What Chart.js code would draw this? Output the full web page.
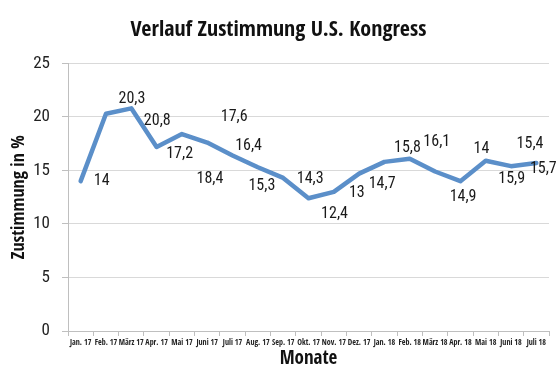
<!DOCTYPE html>
<html>
<head>
<meta charset="utf-8">
<script src="https://cdn.jsdelivr.net/npm/chart.js@4/dist/chart.umd.min.js"></script>
<style>
  html, body { margin: 0; padding: 0; background: #fff; }
  #wrap { width: 559px; height: 374px; }
</style>
</head>
<body>
<div id="wrap"><canvas id="chartZustimmung" width="559" height="374"></canvas></div>
<script>
const monate = ['Jan. 17', 'Feb. 17', 'März 17', 'Apr. 17', 'Mai 17', 'Juni 17', 'Juli 17', 'Aug. 17', 'Sep. 17',
    'Okt. 17', 'Nov. 17', 'Dez. 17', 'Jan. 18', 'Feb. 18', 'März 18', 'Apr. 18', 'Mai 18', 'Juni 18', 'Juli 18'];
const zustimmung = [14, 20.3, 20.8, 17.2, 18.4, 17.6, 16.4, 15.3, 14.3, 12.4, 13, 14.7, 15.8, 16.1, 14.9, 14, 15.9, 15.4, 15.7];
const yTicks = [0, 5, 10, 15, 20, 25];

// wo die Beschriftungen neben den Punkten sitzen (px, relativ zum Punkt)
const labelOffsets = [
    [21, 0], [26, -15], [26, 13], [23, 7], [28, 45], [27, -26], [16, -9], [4, 19], [27, 1],
    [26, 16], [23, 1], [23, 10], [23, -14], [27, -17], [28, 25], [21, -32], [26, 18], [19, -22], [7, 6]
];

const fontText = '"Roboto Condensed", "DejaVu Sans Condensed", sans-serif';
const fontTitel = '"Open Sans Condensed", "Roboto Condensed", sans-serif';

const datenLabels = {
    id: 'datenLabels',
    afterDatasetsDraw(chart) {
        const ctx = chart.ctx;
        const meta = chart.getDatasetMeta(0);
        ctx.save();
        ctx.font = '16px ' + fontText;
        ctx.fillStyle = '#1a1a1a';
        ctx.textAlign = 'center';
        ctx.textBaseline = 'middle';
        meta.data.forEach((p, i) => {
            const txt = String(zustimmung[i]).replace('.', ',');
            const off = labelOffsets[i];
            ctx.fillText(txt, p.x + off[0], p.y + off[1]);
        });
        ctx.restore();
    }
};

const ctx = document.getElementById('chartZustimmung').getContext('2d');

const chartZustimmung = new Chart(ctx, {
    type: 'line',
    data: {
        labels: monate,
        datasets: [{
            label: 'Zustimmung',
            data: zustimmung,
            borderColor: '#5b8fc9',
            borderWidth: 4.5,
            pointRadius: 0,
            tension: 0,
            borderCapStyle: 'round',
            borderJoinStyle: 'round'
        }]
    },
    options: {
        responsive: false,
        animation: false,
        layout: { padding: { left: 8, right: 10, top: 0, bottom: 0 } },
        plugins: {
            legend: { display: false },
            tooltip: { enabled: false },
            title: {
                display: true,
                text: 'Verlauf Zustimmung U.S. Kongress',
                color: '#111',
                font: { family: fontTitel, size: 22, weight: 'bold' },
                padding: { top: 17, bottom: 20 }
            }
        },
        scales: {
            x: {
                offset: true,
                afterFit: s => { s.height = 43; },
                grid: {
                    offset: true,
                    drawOnChartArea: false,
                    drawTicks: true,
                    tickLength: 5,
                    color: '#bfbfbf'
                },
                border: { color: '#bfbfbf', width: 1 },
                ticks: {
                    autoSkip: false,
                    maxRotation: 0,
                    minRotation: 0,
                    padding: 2,
                    color: '#222',
                    font: { family: fontTitel, size: 8, weight: 'bold' }
                },
                title: {
                    display: true,
                    text: 'Monate',
                    color: '#111',
                    font: { family: fontTitel, size: 19, weight: 'bold' },
                    padding: { top: 0, bottom: 4 }
                }
            },
            y: {
                min: 0,
                max: 25,
                afterFit: s => { s.width = 60; },
                afterBuildTicks: s => { s.ticks = yTicks.map(v => ({ value: v })); },
                grid: {
                    color: '#d9d9d9',
                    tickLength: 6,
                    tickColor: '#bfbfbf'
                },
                border: { color: '#bfbfbf', width: 1 },
                ticks: {
                    padding: 12,
                    color: '#222',
                    font: { family: fontText, size: 17 }
                },
                title: {
                    display: true,
                    text: 'Zustimmung in %',
                    color: '#111',
                    font: { family: fontTitel, size: 18, weight: 'bold' },
                    padding: { top: 0, bottom: 0 }
                }
            }
        }
    },
    plugins: [datenLabels]
});
</script>
</body>
</html>
